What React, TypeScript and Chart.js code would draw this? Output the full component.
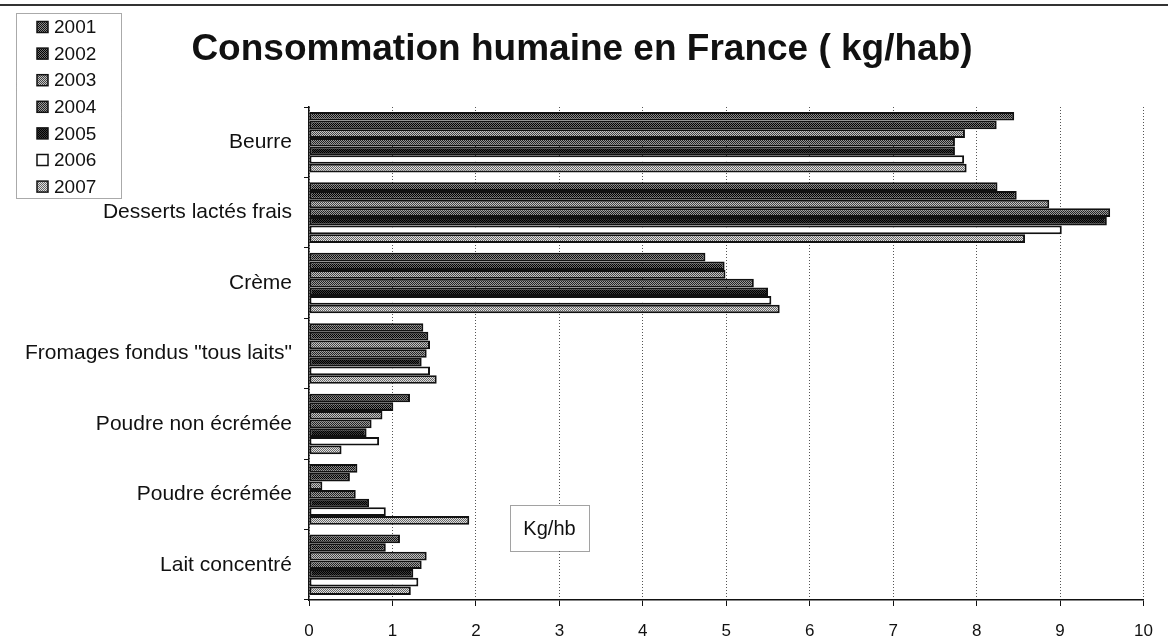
import React, { useEffect, useRef } from "react";
import { Chart, registerables } from "chart.js";

Chart.register(...registerables);

const categories = [
  "Beurre",
  "Desserts lactés frais",
  "Crème",
  'Fromages fondus "tous laits"',
  "Poudre non écrémée",
  "Poudre écrémée",
  "Lait concentré",
];

const years = ["2001", "2002", "2003", "2004", "2005", "2006", "2007"];

const v2001 = [8.45, 8.25, 4.75, 1.37, 1.21, 0.58, 1.09];
const v2002 = [8.24, 8.48, 4.98, 1.43, 1.01, 0.49, 0.92];
const v2003 = [7.86, 8.87, 4.99, 1.45, 0.88, 0.16, 1.41];
const v2004 = [7.74, 9.6, 5.33, 1.41, 0.75, 0.56, 1.35];
const v2005 = [7.74, 9.56, 5.5, 1.35, 0.69, 0.72, 1.25];
const v2006 = [7.85, 9.02, 5.54, 1.45, 0.84, 0.92, 1.31];
const v2007 = [7.88, 8.58, 5.64, 1.53, 0.39, 1.92, 1.22];

const seriesValues = [v2001, v2002, v2003, v2004, v2005, v2006, v2007];

const xTicks = [0, 1, 2, 3, 4, 5, 6, 7, 8, 9, 10];

const title = "Consommation humaine en France ( kg/hab)";
const unitLabel = "Kg/hb";

// two tones per series for a dithered fill
const tones: [string, string][] = [
  ["#111111", "#8a8a8a"],
  ["#000000", "#707070"],
  ["#444444", "#c4c4c4"],
  ["#222222", "#9a9a9a"],
  ["#000000", "#3a3a3a"],
  ["#ffffff", "#ffffff"],
  ["#666666", "#e0e0e0"],
];

function makePattern(a: string, b: string): CanvasPattern | string {
  const c = document.createElement("canvas");
  c.width = 2;
  c.height = 2;
  const g = c.getContext("2d");
  if (!g) return a;
  g.fillStyle = b;
  g.fillRect(0, 0, 2, 2);
  g.fillStyle = a;
  g.fillRect(0, 0, 1, 1);
  g.fillRect(1, 1, 1, 1);
  const ctx2 = document.createElement("canvas").getContext("2d");
  const p = ctx2 ? ctx2.createPattern(c, "repeat") : null;
  return p || a;
}

export default function App() {
  const ref = useRef<HTMLCanvasElement | null>(null);

  useEffect(() => {
    const canvas = ref.current;
    if (!canvas) return;
    const patterns = tones.map(([a, b]) => makePattern(a, b));

    const overlay = {
      id: "overlay",
      afterDraw(chart: any) {
        const ctx = chart.ctx as CanvasRenderingContext2D;
        ctx.save();
        // top rule
        ctx.strokeStyle = "#333";
        ctx.lineWidth = 2;
        ctx.beginPath();
        ctx.moveTo(0, 5);
        ctx.lineTo(1168, 5);
        ctx.stroke();

        // title
        ctx.fillStyle = "#111";
        ctx.font = 'bold 37px "Liberation Sans", Arial, sans-serif';
        ctx.textAlign = "center";
        ctx.textBaseline = "alphabetic";
        ctx.fillText(title, 582, 60);

        // legend box
        ctx.setLineDash([1, 1]);
        ctx.strokeStyle = "#555";
        ctx.lineWidth = 1;
        ctx.fillStyle = "#fff";
        ctx.fillRect(16, 13, 105, 185);
        ctx.strokeRect(16.5, 13.5, 105, 185);
        ctx.setLineDash([]);
        ctx.font = '19px "Liberation Sans", Arial, sans-serif';
        ctx.textAlign = "left";
        ctx.textBaseline = "middle";
        years.forEach((y, i) => {
          const cy = 27 + i * 26.6;
          ctx.fillStyle = patterns[i] as any;
          ctx.fillRect(37, cy - 5.5, 11, 11);
          ctx.strokeStyle = "#111";
          ctx.lineWidth = 1.5;
          ctx.strokeRect(37, cy - 5.5, 11, 11);
          ctx.fillStyle = "#111";
          ctx.fillText(y, 54, cy + 1);
        });

        // unit box
        ctx.fillStyle = "#fff";
        ctx.fillRect(510, 505, 79, 46);
        ctx.setLineDash([1, 1]);
        ctx.strokeStyle = "#444";
        ctx.lineWidth = 1;
        ctx.strokeRect(510.5, 505.5, 79, 46);
        ctx.setLineDash([]);
        ctx.fillStyle = "#111";
        ctx.font = '20px "Liberation Sans", Arial, sans-serif';
        ctx.textAlign = "center";
        ctx.textBaseline = "middle";
        ctx.fillText(unitLabel, 549.5, 529);
        ctx.restore();
      },
    };

    const chart = new Chart(canvas, {
      type: "bar",
      data: {
        labels: categories,
        datasets: years.map((y, i) => ({
          label: y,
          data: seriesValues[i],
          backgroundColor: patterns[i] as any,
          borderColor: "#111",
          borderWidth: 2,
          borderSkipped: false,
          categoryPercentage: 0.86,
          barPercentage: 1,
        })),
      },
      options: {
        indexAxis: "y",
        responsive: false,
        animation: false,
        layout: { padding: { top: 107, right: 13, bottom: 0, left: 0 } },
        plugins: {
          legend: { display: false },
          title: { display: false },
          tooltip: { enabled: false },
        },
        scales: {
          x: {
            min: 0,
            max: 10,
            afterFit: (s: any) => {
              s.height = 42;
            },
            afterBuildTicks: (s: any) => {
              s.ticks = xTicks.map((v) => ({ value: v }));
            },
            ticks: {
              stepSize: 1,
              color: "#111",
              padding: 15,
              font: { family: '"Liberation Sans", Arial, sans-serif', size: 17 },
            },
            grid: {
              color: "#555",
              lineWidth: 1,
              drawTicks: true,
              tickLength: 6,
              tickColor: "#111",
              tickBorderDash: [],
            },
            border: { display: true, color: "#111", width: 1.5, dash: [1, 2] },
          },
          y: {
            afterFit: (s: any) => {
              s.width = 309;
            },
            ticks: {
              color: "#111",
              padding: 12,
              font: { family: '"Liberation Sans", Arial, sans-serif', size: 21 },
            },
            grid: {
              offset: true,
              drawOnChartArea: false,
              drawTicks: true,
              tickLength: 5,
              tickColor: "#111",
            },
            border: { display: true, color: "#111", width: 1.5 },
          },
        },
      },
      plugins: [overlay],
    });

    return () => chart.destroy();
  }, []);

  return (
    <div
      style={{
        position: "fixed",
        left: 0,
        top: 0,
        width: 1168,
        height: 642,
        background: "#fff",
      }}
    >
      <canvas ref={ref} width={1168} height={642} style={{ display: "block" }} />
    </div>
  );
}
